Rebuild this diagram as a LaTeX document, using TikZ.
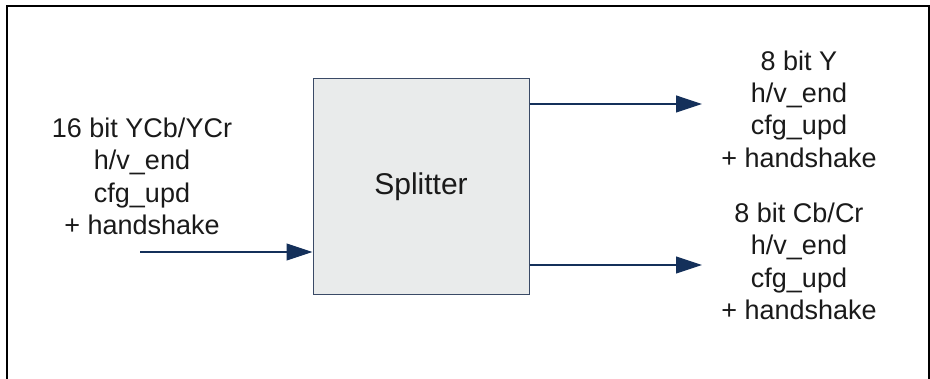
\documentclass[tikz,border=0pt]{standalone}
\usepackage{fontspec}
\setsansfont{Liberation Sans}
\usepackage{tikz}
\usetikzlibrary{arrows.meta,positioning}
\definecolor{sink}{HTML}{1A1A1A}
\definecolor{snavy}{HTML}{14305A}
\definecolor{sedge}{HTML}{3A4A66}
\definecolor{sfill}{HTML}{E9EBEB}

\begin{document}
\begin{tikzpicture}[x=1pt,y=-1pt,
  every node/.style={font=\sffamily\fontsize{27}{32.3}\selectfont,text=sink,inner sep=0pt},
  sig/.style={snavy,line width=1.2pt,-{Triangle[length=26pt,width=17pt]}},
  portlbl/.style={align=center}]
  \useasboundingbox (0,0) rectangle (930,379);

  % open frame, no bottom edge
  \draw[black,line width=1.3pt] (7,379) -- (7,6) -- (929,6) -- (929,379);

  % splitter block
  \node[draw=sedge,fill=sfill,line width=1pt,minimum width=216pt,minimum height=216pt,
        font=\sffamily\fontsize{30}{36}\selectfont] (split) at (421,187) {Splitter};

  % signal ends
  \coordinate (src) at (140,252);
  \coordinate (ytip) at (702,104);
  \coordinate (ctip) at (702,265);

  \draw[sig] (src) -- (src -| split.west);
  \draw[sig] (split.east |- ytip) -- (ytip);
  \draw[sig] (split.east |- ctip) -- (ctip);

  \node[portlbl] (inlbl) at (142,176.3) {16 bit YCb/YCr\\h/v\_end\\cfg\_upd\\+ handshake};
  \node[portlbl] (ylbl) at (799,109) {8 bit Y\\h/v\_end\\cfg\_upd\\+ handshake};
  \node[portlbl] (clbl) at (799,261.5) {8 bit Cb/Cr\\h/v\_end\\cfg\_upd\\+ handshake};
\end{tikzpicture}
\end{document}
